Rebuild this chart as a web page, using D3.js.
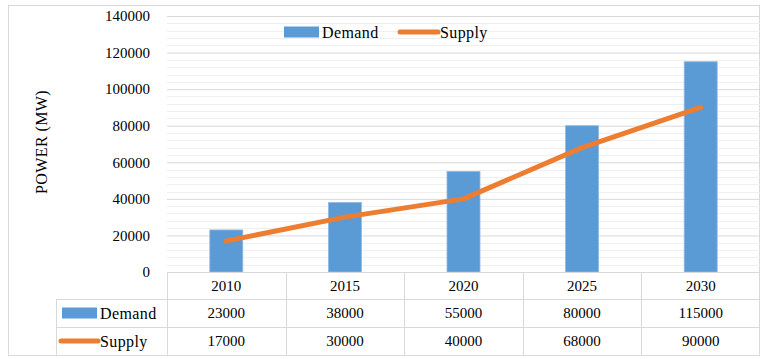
<!DOCTYPE html>
<html>
<head>
<meta charset="utf-8">
<script src="https://cdn.jsdelivr.net/npm/d3@7"></script>
<style>
  body { margin: 0; background: #fff; }
  svg { display: block; }
  svg text { font-family: "Palatino Linotype", "Book Antiqua", Palatino, "Liberation Serif", serif; }
  .word { font-size: 16px; letter-spacing: 0.4px; }
</style>
</head>
<body>
<svg id="chart" width="767" height="359"></svg>
<script>
const years = ["2010", "2015", "2020", "2025", "2030"];
const demand = [23000, 38000, 55000, 80000, 115000];
const supply = [17000, 30000, 40000, 68000, 90000];
const yTicks = [0, 20000, 40000, 60000, 80000, 100000, 120000, 140000];

const blue = "#5b9bd5";
const orange = "#ed7d31";
const gridMajor = "#d9d9d9";
const gridMinor = "#efefef";

const svg = d3.select("#chart");

const plotLeft = 167, plotRight = 760, plotTop = 16, axisY = 272;
const rowH = [272, 299, 327, 355];
const legendX = 56;

// outer frame
svg.append("rect")
  .attr("x", 8.5).attr("y", 5.5)
  .attr("width", 751).attr("height", 350)
  .attr("fill", "none").attr("stroke", gridMajor);

const x = d3.scaleBand().domain(years).range([plotLeft, plotRight]);
const y = d3.scaleLinear().domain([0, 140000]).range([axisY, plotTop]);

// minor gridlines
const minor = d3.range(0, 140001, 4000).filter(v => v % 20000 !== 0);
svg.append("g").selectAll("line").data(minor).join("line")
  .attr("x1", plotLeft).attr("x2", plotRight)
  .attr("y1", d => Math.round(y(d)) + 0.5).attr("y2", d => Math.round(y(d)) + 0.5)
  .attr("stroke", gridMinor);

// y axis with major gridlines
const yAxis = d3.axisLeft(y).tickValues(yTicks).tickSize(-(plotRight - plotLeft)).tickPadding(17)
  .tickFormat(d3.format("d"));
const gy = svg.append("g").attr("transform", `translate(${plotLeft},0)`).call(yAxis);
gy.select(".domain").remove();
gy.selectAll(".tick line").attr("stroke", gridMajor);
gy.selectAll(".tick text").attr("font-size", 15).attr("fill", "#000");

// axis title
svg.append("text")
  .attr("class", "word")
  .attr("transform", `translate(47,142) rotate(-90)`)
  .attr("text-anchor", "middle")
  .text("POWER (MW)");

// bars
const barW = 33;
svg.append("g").selectAll("rect").data(demand).join("rect")
  .attr("x", (d, i) => x(years[i]) + x.bandwidth() / 2 - barW / 2)
  .attr("y", d => y(d))
  .attr("width", barW)
  .attr("height", d => y(0) - y(d))
  .attr("fill", blue)
  .attr("stroke", "#8fb9e3").attr("stroke-width", 0.8);

// supply line
const line = d3.line()
  .x((d, i) => x(years[i]) + x.bandwidth() / 2)
  .y(d => y(d));
svg.append("path").datum(supply)
  .attr("d", line)
  .attr("fill", "none").attr("stroke", orange)
  .attr("stroke-width", 5).attr("stroke-linecap", "round").attr("stroke-linejoin", "round");

// data table
const tbl = svg.append("g").attr("stroke", gridMajor).attr("stroke-width", 1);
tbl.append("line").attr("x1", plotLeft).attr("x2", plotRight).attr("y1", rowH[0] + 0.5).attr("y2", rowH[0] + 0.5);
tbl.append("line").attr("x1", legendX).attr("x2", plotRight).attr("y1", rowH[1] + 0.5).attr("y2", rowH[1] + 0.5);
tbl.append("line").attr("x1", legendX).attr("x2", plotRight).attr("y1", rowH[2] + 0.5).attr("y2", rowH[2] + 0.5);
tbl.append("line").attr("x1", legendX + 0.5).attr("x2", legendX + 0.5).attr("y1", rowH[1]).attr("y2", rowH[3]);
tbl.selectAll(".col").data(years).join("line")
  .attr("x1", d => Math.round(x(d)) + 0.5).attr("x2", d => Math.round(x(d)) + 0.5)
  .attr("y1", rowH[0]).attr("y2", rowH[3]);

const rows = [years, demand, supply];
rows.forEach((r, ri) => {
  svg.append("g").selectAll("text").data(r).join("text")
    .attr("x", (d, i) => x(years[i]) + x.bandwidth() / 2)
    .attr("y", (rowH[ri] + rowH[ri + 1]) / 2)
    .attr("dy", "0.35em")
    .attr("text-anchor", "middle")
    .attr("font-size", 15)
    .text(d => d);
});

// table legend keys
const midD = (rowH[1] + rowH[2]) / 2, midS = (rowH[2] + rowH[3]) / 2;
svg.append("rect").attr("x", 62).attr("y", midD - 5.5).attr("width", 35).attr("height", 11).attr("fill", blue);
svg.append("text").attr("class", "word").attr("x", 100).attr("y", midD).attr("dy", "0.35em").text("Demand");
svg.append("line").attr("x1", 61).attr("x2", 98).attr("y1", midS).attr("y2", midS)
  .attr("stroke", orange).attr("stroke-width", 5).attr("stroke-linecap", "round");
svg.append("text").attr("class", "word").attr("x", 100).attr("y", midS).attr("dy", "0.35em").text("Supply");

// top legend
const ly = 32;
svg.append("rect").attr("x", 284).attr("y", ly - 5.5).attr("width", 35).attr("height", 11).attr("fill", blue);
svg.append("text").attr("class", "word").attr("x", 322).attr("y", ly).attr("dy", "0.35em").text("Demand");
svg.append("line").attr("x1", 400).attr("x2", 438).attr("y1", ly).attr("y2", ly)
  .attr("stroke", orange).attr("stroke-width", 5).attr("stroke-linecap", "round");
svg.append("text").attr("class", "word").attr("x", 440).attr("y", ly).attr("dy", "0.35em").text("Supply");
</script>
</body>
</html>
